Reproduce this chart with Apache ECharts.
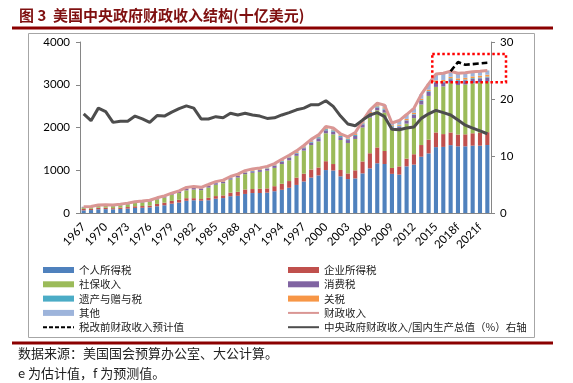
<!DOCTYPE html>
<html><head><meta charset="utf-8">
<script src="https://cdn.jsdelivr.net/npm/echarts@6/dist/echarts.min.js"></script>
<style>html,body{margin:0;padding:0;background:#fff}#c{width:573px;height:383px}</style>
</head><body><div id="c"></div>
<script>
const years = ['1967','1968','1969','1970','1971','1972','1973','1974','1975','1976',
 '1977','1978','1979','1980','1981','1982','1983','1984','1985','1986',
 '1987','1988','1989','1990','1991','1992','1993','1994','1995','1996',
 '1997','1998','1999','2000','2001','2002','2003','2004','2005','2006',
 '2007','2008','2009','2010','2011','2012','2013','2014','2015','2016',
 '2017e','2018f','2019f','2020f','2021f','2022f'];

const individual = [61.5,68.7,87.2,90.4,86.2,94.7,103.2,119.0,122.4,131.6,
 157.6,181.0,217.8,244.1,285.9,297.7,288.9,298.4,334.5,349.0,
 392.6,401.2,445.7,466.9,467.8,476.0,509.7,543.1,590.2,656.4,
 737.5,828.6,879.5,1004.5,994.3,858.3,793.7,809.0,927.2,1043.9,
 1163.5,1145.7,915.3,898.5,1091.5,1132.2,1316.4,1394.6,1540.8,1546.1,
 1587.1,1560,1560,1575,1575,1590];
const corporate = [34.0,28.7,36.7,32.8,26.8,32.2,36.2,38.6,40.6,41.4,
 54.9,60.0,65.7,64.6,61.1,49.2,37.0,56.9,61.3,63.1,
 83.9,94.5,103.3,93.5,98.1,100.3,117.5,140.4,157.0,171.8,
 182.3,188.7,184.7,207.3,151.1,148.0,131.8,189.4,278.3,353.9,
 370.2,304.3,138.2,191.4,181.1,242.3,273.5,320.7,343.8,299.6,
 297.0,275,280,290,300,300];
const social = [32.6,33.9,39.0,44.4,47.3,52.6,63.1,75.1,84.5,90.8,
 106.5,121.0,138.9,157.8,182.7,201.5,209.0,239.4,265.2,283.9,
 303.3,334.3,359.4,380.0,396.0,413.7,428.3,461.5,484.5,509.4,
 539.4,571.8,611.8,652.9,694.0,700.8,713.0,733.4,794.1,837.8,
 869.6,900.2,890.9,864.8,818.8,845.3,947.8,1023.5,1065.3,1115.1,
 1161.9,1160,1165,1170,1175,1180];
const excise = [13.7,14.1,15.2,15.7,16.6,15.5,16.3,16.8,16.6,17.0,
 17.5,18.4,18.7,24.3,40.8,36.3,35.3,37.4,36.0,32.9,
 32.5,35.2,34.4,35.3,42.4,45.6,48.1,55.2,57.5,54.0,
 56.9,57.7,70.4,68.9,66.2,67.0,67.5,69.9,73.1,74.0,
 65.1,67.3,62.5,66.9,72.4,79.1,84.0,93.4,98.3,95.0,
 83.8,95,100,100,100,100];
const estate = [3.0,3.1,3.5,3.6,3.7,5.4,4.9,5.0,4.6,5.2,
 7.3,5.3,5.4,6.4,6.8,8.0,6.1,6.0,6.4,7.0,
 7.5,7.6,8.7,11.5,11.1,11.1,12.6,15.2,14.8,17.2,
 19.8,24.1,27.8,29.0,28.4,26.5,22.0,24.8,24.8,27.9,
 26.0,28.8,23.5,18.9,7.4,14.0,18.9,19.3,19.2,21.4,
 22.8,20,18,19,20,21];
const customs = [1.9,2.0,2.3,2.4,2.6,3.3,3.2,3.3,3.7,4.1,
 5.2,6.6,7.4,7.2,8.1,8.9,8.7,11.4,12.1,13.3,
 15.1,16.2,16.3,16.7,15.9,17.4,18.8,20.1,19.3,18.7,
 17.9,18.3,18.3,19.9,19.4,18.6,19.9,21.1,23.4,24.8,
 26.0,27.6,22.5,25.3,29.5,30.3,31.8,33.9,35.0,34.8,
 34.6,40,41,42,43,44];
const other = [2.1,2.5,2.9,3.4,3.9,3.6,3.9,5.4,6.7,8.0,
 6.5,7.4,9.3,12.7,13.8,16.2,15.6,17.0,18.5,19.9,
 19.5,20.2,23.3,28.0,23.7,27.1,19.3,23.2,28.5,25.5,
 25.4,32.6,34.9,42.8,37.8,33.9,34.5,32.6,32.7,44.6,
 47.6,50.0,52.1,96.8,102.8,106.0,103.0,136.1,148.3,156.1,
 128.9,120,115,110,105,100];
const total = [148.8,153.0,186.9,192.8,187.1,207.3,230.8,263.2,279.1,298.1,
 355.6,399.6,463.3,517.1,599.3,617.8,600.6,666.4,734.0,769.2,
 854.3,909.2,991.1,1032.0,1055.0,1091.2,1154.3,1258.6,1351.8,1453.1,
 1579.2,1721.7,1827.5,2025.2,1991.1,1853.1,1782.3,1880.1,2153.6,2406.9,
 2568.0,2524.0,2105.0,2162.7,2303.5,2449.1,2775.1,3021.5,3249.9,3268.0,
 3316.2,3270,3279,3306,3318,3335];
const preReform = [null,null,null,null,null,null,null,null,null,null,
 null,null,null,null,null,null,null,null,null,null,
 null,null,null,null,null,null,null,null,null,null,
 null,null,null,null,null,null,null,null,null,null,
 null,null,null,null,null,null,null,null,null,null,
 3316.2,3530,3467,3483,3500,3515];
const ratioGDP = [17.4,16.2,18.4,17.8,15.9,16.1,16.1,17.0,16.5,15.9,
 17.1,17.0,17.7,18.3,18.8,18.4,16.5,16.5,16.9,16.7,
 17.5,17.2,17.5,17.2,17.0,16.6,16.7,17.2,17.6,18.1,
 18.4,19.0,19.0,19.7,18.7,17.0,15.6,15.3,16.3,17.2,
 17.6,16.9,14.7,14.6,14.9,15.1,16.6,17.4,18.0,17.6,
 17.2,16.3,15.4,14.9,14.4,13.9];

const leftTicks = {min:0, max:4000, interval:1000};
const rightTicks = {min:0, max:30, interval:10};

const names = ['个人所得税','企业所得税','社保收入','消费税','遗产与赠与税','关税','其他','财政收入','税改前财政收入预计值','中央政府财政收入/国内生产总值（%）右轴'];
const colors = ['#4F81BD','#C0504D','#9BBB59','#8064A2','#4BACC6','#F79646','#9DB4DB'];
const barData = [individual, corporate, social, excise, estate, customs, other];

const chart = echarts.init(document.getElementById('c'));
const cjk = "'Noto Sans CJK SC', sans-serif";
const lat = "Lato, 'Open Sans', sans-serif";

const series = barData.map((d,i)=>({
  name: names[i], type:'bar', stack:'rev', data:d, yAxisIndex:0,
  barCategoryGap:'44%', itemStyle:{color:colors[i]}
}));
series.push({name:names[7], type:'line', data:total, yAxisIndex:0, symbol:'none', z:5,
  lineStyle:{color:'#DA9694', width:3}, itemStyle:{color:'#DA9694'}});
series.push({name:names[8], type:'line', data:preReform, yAxisIndex:0, symbol:'none', z:6,
  lineStyle:{color:'#000', width:2.6, type:[6,3]}, itemStyle:{color:'#000'}});
series.push({name:names[9], type:'line', data:ratioGDP, yAxisIndex:1, symbol:'none', z:7,
  lineStyle:{color:'#4D4D4D', width:3}, itemStyle:{color:'#4D4D4D'}});

const legendCommon = {orient:'vertical', padding:0, itemWidth:31, itemHeight:6, itemGap:0.3,
  textStyle:{fontFamily:cjk, fontSize:10.5, color:'#222', lineHeight:14}, selectedMode:false};
const leftNames = [names[0], names[2], names[4], names[6], names[8]];
const rightNames = [names[1], names[3], names[5], names[7], names[9]];
const lineLegendStyle = {
  [names[7]]: {color:'#DA9694', width:2, type:'solid'},
  [names[8]]: {color:'#000', width:2, type:[4,2]},
  [names[9]]: {color:'#4D4D4D', width:2, type:'solid'}
};
const mk = n => (names.indexOf(n) < 7 ? {name:n, icon:'rect'} :
  {name:n, itemStyle:{opacity:0}, lineStyle:lineLegendStyle[n]});

const fmt = v => String(v);
const baseGraphic = [
  {type:'rect', shape:{x:28.5, y:33.5, width:506, height:304}, style:{fill:'none', stroke:'#A6A6A6', lineWidth:1}, z:-1},
  {type:'text', left:19, top:8, style:{text:'图 3  美国中央政府财政收入结构(十亿美元)', font:"bold 15px 'Noto Sans CJK SC'", fill:'#7F1010'}},
  {type:'rect', shape:{x:12, y:26.5, width:541, height:3}, style:{fill:'#8B0000'}},
  {type:'rect', shape:{x:12, y:341.5, width:541, height:3}, style:{fill:'#8B0000'}},
  {type:'text', left:18, top:347, style:{text:'数据来源：美国国会预算办公室、大公计算。', font:"13px 'Noto Sans CJK SC'", fill:'#222'}},
  {type:'text', left:18, top:367, style:{text:'e 为估计值，f 为预测值。', font:"13px 'Noto Sans CJK SC'", fill:'#222'}}
];

chart.setOption({
  animation:false,
  grid:{left:80, right:82, top:42, bottom:170},
  xAxis:{type:'category', data:years,
    axisLine:{lineStyle:{color:'#868686'}},
    axisTick:{interval:0, length:4, lineStyle:{color:'#868686'}},
    axisLabel:{interval:2, rotate:45, fontFamily:lat, fontSize:11.5, color:'#000', margin:12}},
  yAxis:[
    {type:'value', min:leftTicks.min, max:leftTicks.max, interval:leftTicks.interval,
     axisLine:{show:true, lineStyle:{color:'#868686'}}, axisTick:{show:true, length:4, lineStyle:{color:'#868686'}},
     splitLine:{show:false}, axisLabel:{formatter:fmt, fontFamily:lat, fontSize:11.5, color:'#000', margin:10}},
    {type:'value', position:'right', min:rightTicks.min, max:rightTicks.max, interval:rightTicks.interval,
     axisLine:{show:true, lineStyle:{color:'#868686'}}, axisTick:{show:true, length:4, lineStyle:{color:'#868686'}},
     splitLine:{show:false}, axisLabel:{formatter:fmt, fontFamily:lat, fontSize:11.5, color:'#000', margin:9}}
  ],
  legend:[
    Object.assign({left:42, top:263, data:leftNames.map(mk)}, legendCommon),
    Object.assign({left:287, top:263, data:rightNames.map(mk)}, legendCommon)
  ],
  series: series,
  graphic: baseGraphic
});

// red dotted annotation box around the forecast period
const x0 = chart.convertToPixel({xAxisIndex:0}, years[48]);
const x1 = chart.convertToPixel({xAxisIndex:0}, years[49]);
const band = x1 - x0;
const yTop = chart.convertToPixel({yAxisIndex:0}, 3720);
const yBot = chart.convertToPixel({yAxisIndex:0}, 3060);
const bx = x0 - band/2;
chart.setOption({graphic: baseGraphic.concat([
  {type:'rect', shape:{x:bx, y:yTop, width:(years.length-48)*band + 15, height:yBot-yTop},
   style:{fill:'none', stroke:'#FF0000', lineWidth:2.5, lineDash:[2.5,2.5]}, z:10}
])});
</script></body></html>
